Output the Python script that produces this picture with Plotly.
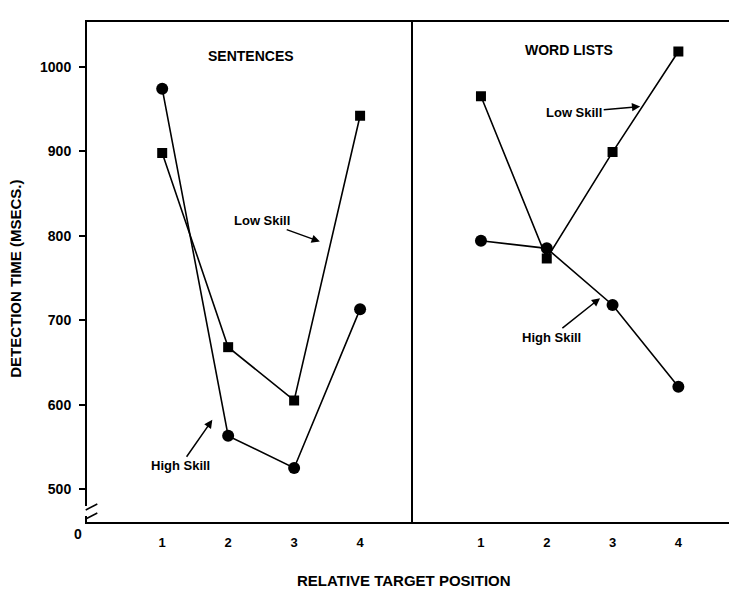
import plotly.graph_objects as go
from plotly.subplots import make_subplots

positions = [1, 2, 3, 4]
sent_high = [974, 563, 525, 713]
sent_low = [898, 668, 605, 942]
word_high = [794, 785, 718, 621]
word_low = [965, 773, 899, 1018]
y_ticks = [500, 600, 700, 800, 900, 1000]
panel_titles = ["SENTENCES", "WORD LISTS"]

FONT = "Liberation Sans"
fig = make_subplots(rows=1, cols=2, shared_yaxes=False, horizontal_spacing=0)

def add_series(y, symbol, col, size):
    fig.add_trace(go.Scatter(x=positions, y=y, mode="lines+markers",
                             line=dict(color="black", width=1.6),
                             marker=dict(symbol=symbol, size=size, color="black"),
                             showlegend=False), row=1, col=col)

add_series(sent_low, "square", 1, 10)
add_series(sent_high, "circle", 1, 12)
add_series(word_low, "square", 2, 10)
add_series(word_high, "circle", 2, 12)

yr = [461, 1053]
fig.update_layout(
    width=729, height=584, margin=dict(l=79, r=6, t=14, b=70),
    paper_bgcolor="white", plot_bgcolor="white",
    font=dict(family=FONT, color="black"),
    xaxis=dict(domain=[0, 0.506], range=[-0.14, 4.8], tickvals=positions,
               showgrid=False, zeroline=False, showline=True, mirror=True,
               linecolor="black", linewidth=2, ticks="", ticklabelstandoff=7,
               automargin=False,
               tickfont=dict(size=13, family=FONT, weight="bold")),
    xaxis2=dict(domain=[0.506, 1], range=[-0.035, 4.8], tickvals=positions,
                showgrid=False, zeroline=False, showline=True, mirror=True,
                linecolor="black", linewidth=2, ticks="", ticklabelstandoff=7,
                automargin=False,
                tickfont=dict(size=13, family=FONT, weight="bold")),
    yaxis=dict(range=yr, tickvals=y_ticks, showgrid=False, zeroline=False,
               showline=True, linecolor="black", linewidth=2, ticks="outside",
               ticklen=6, tickwidth=1.5, tickcolor="black", ticklabelstandoff=5,
               automargin=False,
               tickfont=dict(size=14, family=FONT, weight="bold")),
    yaxis2=dict(range=yr, tickvals=y_ticks, showticklabels=False, showgrid=False,
                zeroline=False, showline=True, mirror=True, linecolor="black",
                linewidth=2, ticks="", automargin=False),
)

ann = []
ann.append(dict(text="RELATIVE TARGET POSITION", xref="paper", yref="paper",
                x=0.492, y=-0.116, showarrow=False, yanchor="middle",
                font=dict(size=15, family=FONT, weight="bold")))
ann.append(dict(text="DETECTION TIME (MSECS.)", xref="paper", yref="paper",
                x=-0.112, y=0.486, showarrow=False, textangle=-90,
                xanchor="center", yanchor="middle",
                font=dict(size=15, family=FONT, weight="bold")))
ann.append(dict(text="0", xref="paper", yref="paper", x=-0.005, y=-0.024,
                xanchor="right", yanchor="middle", showarrow=False,
                font=dict(size=14, family=FONT, weight="bold")))
ann.append(dict(text=panel_titles[0], xref="x", yref="paper", x=2.35, y=0.952,
                showarrow=False, font=dict(size=14, family=FONT, weight="bold")))
ann.append(dict(text=panel_titles[1], xref="x2", yref="paper", x=2.34, y=0.964,
                showarrow=False, font=dict(size=14, family=FONT, weight="bold")))

def label(text, xref, yref, x, y, ax, ay):
    ann.append(dict(text=text, xref=xref, yref=yref, x=x, y=y, ax=ax, ay=ay,
                    showarrow=True, arrowhead=2, arrowsize=1.1, arrowwidth=1.5,
                    arrowcolor="black", standoff=0,
                    font=dict(size=13, family=FONT, weight="bold")))

label("Low Skill", "x", "y", 3.39, 793, -58, -21)
label("High Skill", "x", "y", 1.76, 582, -32, 46)
label("Low Skill", "x2", "y2", 3.42, 953, -66, 6)
label("High Skill", "x2", "y2", 2.81, 726, -49, 39)
fig.update_layout(annotations=ann)

# axis break marks
fig.add_shape(type="rect", xref="paper", yref="paper", x0=-0.004, x1=0.004,
              y0=0.012, y1=0.032, fillcolor="white", line=dict(width=0))
fig.add_shape(type="line", xref="paper", yref="paper", x0=-0.002, x1=0.016,
              y0=0.024, y1=0.036, line=dict(color="black", width=1.5))
fig.add_shape(type="line", xref="paper", yref="paper", x0=-0.002, x1=0.016,
              y0=0.006, y1=0.018, line=dict(color="black", width=1.5))

fig.write_html("out.html")
